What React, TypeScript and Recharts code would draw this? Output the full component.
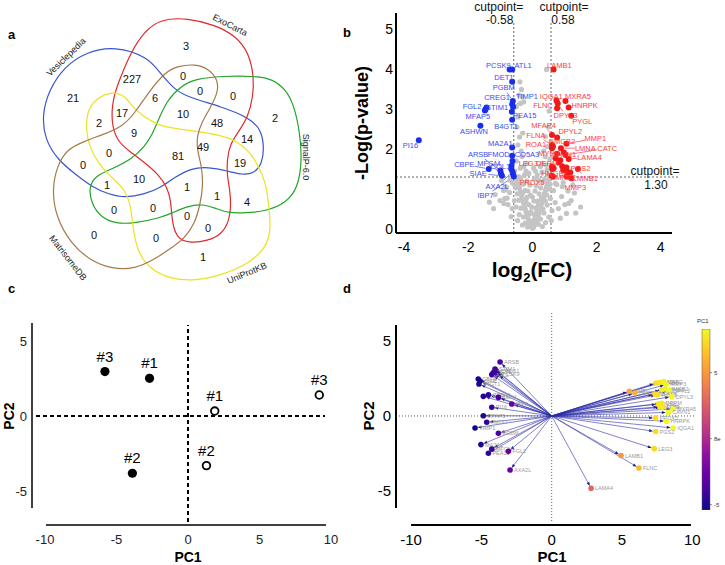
import React from 'react';
import { ScatterChart, Scatter, XAxis, YAxis, ReferenceLine, Label, BarChart, Bar } from 'recharts';

const FONT = '"Liberation Sans", Arial, Helvetica, sans-serif';

// ---------- a: Venn diagram (outline control points, diagram units) ----------
const vesiclepediaOutline = [[115,46],[148,57],[160,73],[175,90],[188,97],[222,107],[248,117],[262,130],[264,150],[262,163],[255,173],[242,175],[228,171],[208,167],[192,168],[175,177],[160,188],[145,194],[125,198],[108,194],[92,187],[75,174],[58,160],[45,140],[42,115],[49,90],[64,67],[86,52]];
const exoCartaOutline = [[160,19],[188,18],[215,25],[236,36],[249,53],[254,77],[253,97],[248,117],[239,131],[230,144],[227,160],[227,175],[230,190],[231,207],[229,221],[222,234],[208,241],[188,243],[177,238],[172,223],[171,200],[167,187],[159,175],[144,162],[129,151],[117,141],[111,122],[113,97],[121,76],[131,52],[144,32]];
const signalPOutline = [[157,123],[167,100],[181,86],[195,79],[222,76],[255,76],[273,79],[286,90],[294,105],[300,133],[302,160],[298,188],[286,203],[267,211],[245,213],[228,213],[215,208],[202,204],[188,206],[172,213],[160,218],[135,223],[118,224],[101,218],[91,203],[89,187],[95,176],[112,169],[132,159],[145,146],[152,135]];
const uniProtOutline = [[113,91],[125,96],[132,106],[140,114],[160,127],[188,130],[222,135],[238,142],[250,152],[259,167],[266,183],[269,207],[271,230],[266,248],[248,264],[222,275],[195,281],[170,279],[150,269],[138,253],[133,230],[131,205],[124,188],[111,177],[97,162],[89,145],[86,130],[87,112],[95,99]];
const matrisomeOutline = [[165,72],[178,66],[195,64],[209,69],[218,80],[218,93],[209,110],[202,122],[197,135],[197,150],[202,167],[203,187],[200,205],[195,223],[185,238],[170,249],[155,259],[135,269],[112,269],[91,261],[71,244],[56,217],[52,190],[57,166],[67,149],[85,141],[102,135],[122,127],[135,113],[148,93]];

const vennCounts = [
  [186,46,'3'],[132,79,'227'],[73,98,'21'],[183,76,'0'],[200,91,'0'],[233,96,'0'],[275,118,'2'],
  [155,98,'6'],[122,113,'17'],[183,114,'10'],[99,123,'2'],[217,123,'48'],[134,133,'9'],[247,139,'14'],
  [203,147,'49'],[109,153,'0'],[178,156,'81'],[240,163,'19'],[83,165,'0'],[139,179,'10'],[107,185,'1'],
  [187,187,'1'],[217,196,'1'],[247,202,'4'],[114,210,'0'],[153,208,'0'],[187,216,'0'],[208,228,'0'],
  [94,235,'0'],[156,238,'0'],[203,257,'1'],
];

const vennSetNames = [
  [66,57,'Vesiclepedia',-44],[230,25,'ExoCarta',27],[306,157,'SignalP-6.0',90],
  [68,258,'MatrisomeDB',52],[247,273,'UniProtKB',-23],
];

// ---------- b: volcano (log2 FC, -log10 p) ----------
const volcanoNs = [
  [0.00,0.02],[0.04,0.05],[-0.04,0.07],[0.07,0.11],[-0.07,0.13],[0.11,0.16],[-0.10,0.19],[0.14,0.23],[-0.13,0.26],[0.02,0.21],
  [0.17,0.31],[-0.16,0.33],[0.20,0.39],[-0.19,0.41],[0.06,0.36],[-0.05,0.43],[0.23,0.47],[-0.22,0.49],[0.26,0.55],[-0.25,0.57],
  [0.11,0.52],[-0.11,0.61],[0.29,0.63],[-0.28,0.66],[0.32,0.72],[-0.31,0.75],[0.16,0.70],[-0.17,0.79],[0.35,0.80],[-0.34,0.84],
  [0.38,0.89],[-0.37,0.92],[0.21,0.88],[-0.23,0.96],[0.41,0.97],[-0.40,1.01],[0.44,1.05],[-0.43,1.08],[0.26,1.03],[-0.29,1.12],
  [0.47,1.13],[-0.46,1.17],[0.50,1.21],[-0.49,1.24],[0.31,1.18],[0.06,1.25],[-0.08,1.10],[0.00,0.80],[-0.02,0.55],[0.08,0.95],
  [0.36,0.40],[-0.41,0.36],[0.46,0.60],[-0.51,0.55],[0.56,0.76],[-0.56,0.71],[0.61,0.46],[-0.63,0.51],[0.51,0.30],[-0.46,0.21],
  [0.41,0.16],[0.66,0.96],[-0.71,0.91],[0.71,0.66],[-0.76,0.61],[0.81,0.51],[-0.86,0.76],[0.76,1.11],[-0.81,1.05],[0.91,0.81],
  [-0.90,0.96],[1.01,0.61],[-1.01,0.71],[0.96,1.16],[-0.96,1.21],[1.11,0.95],[-1.16,0.86],[1.21,0.71],[-1.21,0.51],[1.35,0.40],
  [-1.34,0.67],[1.31,0.90],[0.87,0.27],[1.06,0.39],[1.50,0.55],[1.26,1.10],[-0.66,0.31],[0.59,0.21],[-0.31,0.10],[0.31,0.06],
  [0.72,1.14],[0.93,1.06],[1.13,0.64],[-0.84,0.98],[-0.79,0.77],[-0.89,0.64],[-0.62,1.15],[-0.70,1.22],
  [-0.15,0.05],[0.18,0.12],[-0.22,0.15],[0.25,0.25],[-0.28,0.30],[0.33,0.50],[-0.36,0.52],[0.40,0.70],[-0.42,0.72],[0.45,0.85],
  [-0.47,0.88],[0.52,1.00],[-0.52,1.03],[0.55,1.12],[-0.55,1.10],[0.12,1.08],[-0.14,0.95],[0.18,0.60],[-0.20,0.68],[0.05,0.70],
  [-0.06,0.85],[0.28,0.78],[-0.30,0.90],[0.38,1.25],[-0.36,1.27],[0.20,1.22],[-0.18,1.20],[0.09,0.30],[-0.09,0.38],[0.14,0.45],
  [-0.39,3.68],[-0.34,3.49],[-0.32,3.31],[-0.27,3.18],[-0.37,3.14],[-0.50,3.06],[-0.45,2.80],[-0.48,2.55],[-0.40,2.30],[-0.45,2.10],
  [-0.35,1.95],[-0.32,1.81],[-0.27,1.56],[-0.17,1.64],[-0.11,1.39],[-0.43,1.31],[0.04,1.52],[0.09,1.45],[0.25,1.56],[0.30,1.64],
  [0.46,1.48],[0.40,1.81],[0.46,2.06],[0.40,2.31],[0.50,2.55],[0.44,3.99],[0.50,1.35],[-0.20,1.45],[0.15,1.35],[-0.50,1.70],
  [-0.55,1.45],[0.55,1.75],[0.35,1.95],[-0.42,3.35],[0.52,2.95],[-0.25,1.35],[0.30,1.42],[-0.38,1.52],[0.42,1.60],[-0.30,2.40],
];

// name, log2FC, -log p, label x, label y
const volcanoDown = [
  ['PCSK9',-0.71,3.99,-1.06,4.10],['ATL1',-0.63,3.99,-0.29,4.10],['DET1',-0.63,3.68,-0.89,3.79],
  ['PGBM',-0.61,3.20,-0.89,3.53],['CREG1',-0.63,3.12,-1.10,3.28],['TIMP1',-0.60,3.05,-0.17,3.31],
  ['FGL2',-1.46,2.99,-1.88,3.06],['STIM1',-1.43,3.04,-1.10,3.04],['MFAP5',-1.48,2.96,-1.70,2.82],
  ['PEA15',-0.64,2.93,-0.24,2.83],['B4GT1',-0.63,2.73,-0.82,2.57],['ASHWN',-1.62,2.58,-1.82,2.45],
  ['PI16',-3.54,2.22,-3.80,2.08],['MA2A1',-0.63,2.04,-1.00,2.14],['FMOD',-0.63,1.83,-1.05,1.87],
  ['CO5A3',-0.62,1.70,-0.17,1.87],['ARSB',-1.00,1.46,-1.69,1.87],['CBPE',-1.36,1.50,-2.12,1.62],
  ['MFGM',-0.98,1.39,-1.36,1.64],['COL1',-0.65,1.58,-1.00,1.56],['SIAE',-0.95,1.33,-1.69,1.39],
  ['AXA2L',-0.62,1.43,-1.10,1.06],['IBP7',-0.58,1.31,-1.46,0.83],
];
const volcanoDownExtra = [[-0.60,1.36],[-0.66,1.50]];

const volcanoUp = [
  ['LAMB1',0.66,3.99,0.84,4.10],['IQGA1',0.75,3.21,0.59,3.31],['FLNC',0.77,3.02,0.33,3.08],
  ['MXRA5',1.03,3.20,1.42,3.31],['HNRPK',1.13,3.04,1.63,3.08],['DPYL3',0.79,3.14,1.03,2.83],
  ['PYGL',1.21,2.83,1.55,2.68],['MFAP4',0.61,2.35,0.35,2.60],['DPYL2',0.77,2.29,1.18,2.45],
  ['FLNA',0.61,2.10,0.11,2.35],['HMGB2',0.61,2.02,0.92,2.20],['MMP1',1.06,2.13,1.96,2.27],
  ['ROA1',0.64,2.06,0.11,2.12],['LMNA',0.89,2.02,1.65,2.02],['CATC',1.03,1.85,2.33,2.02],
  ['MYH9',0.72,1.77,0.51,1.89],['CAVN1',0.77,1.88,0.98,1.87],['LAMA4',1.13,1.75,1.78,1.79],
  ['LEG3',0.61,1.56,-0.13,1.64],['DERM',0.66,1.52,0.46,1.64],['PGS2',1.06,1.54,1.50,1.52],
  ['HMGB1',0.60,1.33,0.69,1.38],['LMNB2',0.96,1.47,0.97,1.30],['LMNB1',1.42,1.50,1.65,1.27],
  ['MMP3',1.21,1.27,1.34,1.04],['PRDX5',0.64,1.31,-0.01,1.16],
];
const volcanoUpExtra = [[0.87,1.72],[0.82,1.66],[0.93,1.57],[1.08,1.43],[1.18,1.41],[1.06,1.31],[0.98,1.91],[0.62,1.50]];

const volcanoXTicks = [-4, -2, 0, 2, 4];
const volcanoYTicks = [0, 1, 2, 3, 4, 5];
const fcCut = 0.58;
const pCut = 1.30;

// ---------- c: sample PCA ----------
const pcaTreated = [['#3',-5.81,2.96],['#1',-2.69,2.51],['#2',-3.89,-3.82]];
const pcaControl = [['#1',1.87,0.33],['#2',1.29,-3.31],['#3',9.18,1.40]];
const pcaXTicks = [-10, -5, 0, 5, 10];
const pcaYTicks = [-5, 0, 5];

// ---------- d: biplot (PC1, PC2 loadings) ----------
const biplotDown = [
  ['ARSB',-3.67,3.60],['STIM1',-4.03,3.13],['CREG1',-3.93,3.00],['DET1',-4.15,2.90],['PCSK9',-3.85,2.80],
  ['ATL1',-4.26,2.76],['CBPE',-5.22,2.47],['SIAE',-5.10,2.33],['B4GT1',-5.17,2.13],['ASHWN',-4.86,1.31],
  ['CO5A3',-4.50,1.42],['COL1',-3.79,1.24],['IBP7',-2.84,0.80],['PI16',-4.26,0.58],['MFAP5',-4.86,0.02],
  ['FMOD',-4.62,-0.42],['TIMP1',-5.45,-0.80],['PGBM',-3.79,-1.16],['MA2A1',-5.03,-1.91],['MFGM',-4.26,-2.20],
  ['PEA15',-4.50,-2.49],['FGL2',-3.08,-2.36],['AXA2L',-2.96,-3.60],
];
const biplotUp = [
  ['MMP1',5.52,1.65],['HMGB1',5.92,1.53],['LMNB1',7.41,2.20],['LMNA',7.70,2.24],['CATC',7.98,2.29],
  ['MMP3',8.15,2.10],['LMNB2',7.82,1.75],['HMGB2',8.05,1.80],['DPYL2',8.34,1.69],['MFAP4',7.34,1.47],
  ['ROA1',7.53,1.42],['DPYL3',8.53,1.29],['PYGL',7.58,0.80],['DERM',7.82,0.84],['MYH9',7.70,0.62],
  ['FLNA',7.86,0.58],['MXRA5',8.64,0.47],['CAVN1',8.29,0.24],['PRDX5',7.39,-0.13],['HNRPK',8.17,-0.35],
  ['IQGA1',8.64,-0.80],['PGS2',7.39,-1.04],['LEG3',7.29,-2.18],['LAMB1',4.93,-2.64],['FLNC',6.20,-3.47],
  ['LAMA4',2.80,-4.82],
];
const colorbarRange = [-5.4, 8.3];
const colorbarTicks = [-5, 0, 5];
const colorbarTickLabels = ['-5', '8e', '5'];

// ---------- helpers ----------
const PLASMA = ['#0d0887','#41049d','#6a00a8','#8f0da4','#b12a90','#cc4778','#e16462','#f2844b','#fca636','#fcce25','#f0f921'];
function hex(c: string) { return [1, 3, 5].map((i) => parseInt(c.slice(i, i + 2), 16)); }
function plasma(v: number) {
  const t = Math.max(0, Math.min(1, (v - colorbarRange[0]) / (colorbarRange[1] - colorbarRange[0])));
  const f = t * (PLASMA.length - 1);
  const i = Math.min(PLASMA.length - 2, Math.floor(f));
  const a = hex(PLASMA[i]), b = hex(PLASMA[i + 1]);
  const k = f - i;
  return `rgb(${a.map((x, j) => Math.round(x + (b[j] - x) * k)).join(',')})`;
}

const pts = (arr: any[]) => arr.map(([x, y]) => ({ x, y }));
const NoDot = () => <g />;
const dot = (fill: string, r: number) => (p: any) => <circle cx={p.cx} cy={p.cy} r={r} fill={fill} />;

const BLUE = '#1a2ee8';
const RED = '#f01818';
const BLUE_TXT = '#3b4cf0';
const RED_TXT = '#ff3a3a';

function connector(name: string, color: string, fs: number) {
  return (p: any) => {
    const { x1, y1, x2, y2 } = p;
    const dx = x2 - x1, dy = y2 - y1;
    const len = Math.hypot(dx, dy);
    if (!len) return <g />;
    const hw = name.length * fs * 0.31 + 1, hh = fs * 0.5 + 1;
    const tx = dx === 0 ? Infinity : hw / Math.abs(dx);
    const ty = dy === 0 ? Infinity : hh / Math.abs(dy);
    const t0 = Math.min(tx, ty);
    const t1 = 1 - 3.5 / len;
    if (t0 >= t1 - 0.05) return <g />;
    return <line x1={x1 + dx * t0} y1={y1 + dy * t0} x2={x1 + dx * t1} y2={y1 + dy * t1} stroke={color} strokeWidth={0.7} />;
  };
}

const arrowShape = (p: any) => {
  const { x1, y1, x2, y2 } = p;
  const dx = x2 - x1, dy = y2 - y1, L = Math.hypot(dx, dy);
  const ux = dx / L, uy = dy / L;
  const tipX = x2 - ux * 2.5, tipY = y2 - uy * 2.5;
  const bx = tipX - ux * 4, by = tipY - uy * 4;
  const nx = -uy * 1.5, ny = ux * 1.5;
  return (
    <g>
      <line x1={x1} y1={y1} x2={bx} y2={by} stroke="#2d2da8" strokeWidth={0.6} />
      <polygon points={`${tipX},${tipY} ${bx + nx},${by + ny} ${bx - nx},${by - ny}`} fill="#1b1b86" />
    </g>
  );
};

function VennPanel() {
  const outlines: [number[][], string][] = [
    [vesiclepediaOutline, '#3a55d0'],
    [exoCartaOutline, '#e02a2a'],
    [signalPOutline, '#22a52a'],
    [uniProtOutline, '#ece31c'],
    [matrisomeOutline, '#a57a4a'],
  ];
  return (
    <ScatterChart width={345} height={292} margin={{ top: 0, right: 0, bottom: 0, left: 0 }}>
      <XAxis type="number" dataKey="x" domain={[0, 345]} allowDataOverflow hide />
      <YAxis type="number" dataKey="y" domain={[0, 292]} allowDataOverflow reversed hide width={0} />
      {outlines.map(([o, c], i) => (
        <Scatter key={i} data={pts(o)} line={{ stroke: c, strokeWidth: 1.2 }} lineJointType="basisClosed"
          shape={NoDot} isAnimationActive={false} />
      ))}
      <Scatter data={vennCounts.map(([x, y, v]) => ({ x, y, v }))} isAnimationActive={false}
        shape={(p: any) => (
          <text x={p.cx} y={p.cy} textAnchor="middle" dominantBaseline="central" fontSize={11}
            fontFamily={FONT} fill="#111">{p.payload.v}</text>
        )} />
      <Scatter data={vennSetNames.map(([x, y, name, a]) => ({ x, y, name, a }))} isAnimationActive={false}
        shape={(p: any) => (
          <text x={p.cx} y={p.cy} textAnchor="middle" dominantBaseline="central" fontSize={9}
            fontFamily={FONT} fill="#222" transform={`rotate(${p.payload.a} ${p.cx} ${p.cy})`}>{p.payload.name}</text>
        )} />
    </ScatterChart>
  );
}

function VolcanoPanel() {
  const genes = [
    ...volcanoDown.map(([name, x, y, lx, ly]) => ({ name, x, y, lx, ly, c: BLUE, t: BLUE_TXT })),
    ...volcanoUp.map(([name, x, y, lx, ly]) => ({ name, x, y, lx, ly, c: RED, t: RED_TXT })),
  ] as any[];
  const tick = { fill: '#000', fontSize: 14, fontFamily: FONT };
  return (
    <ScatterChart width={385} height={292} margin={{ top: 13, right: 53, bottom: 10, left: 26 }}>
      <XAxis type="number" dataKey="x" domain={[-4.25, 4.35]} ticks={volcanoXTicks} allowDataOverflow
        axisLine={{ stroke: '#000', strokeWidth: 2 }} tickLine={false} tickSize={0} tickMargin={9} tick={tick} height={49}>
        <Label content={() => (
          <text x={192} y={277} textAnchor="middle" fontSize={21} fontWeight="bold" fontFamily={FONT} fill="#000">
            log<tspan fontSize={13} dy={5}>2</tspan><tspan dy={-5}>(FC)</tspan>
          </text>
        )} />
      </XAxis>
      <YAxis type="number" dataKey="y" domain={[-0.1, 5.4]} ticks={volcanoYTicks} allowDataOverflow width={30}
        axisLine={{ stroke: '#000', strokeWidth: 2 }} tickLine={false} tickSize={0} tickMargin={3} tick={tick}>
        <Label content={() => (
          <text x={28} y={123} transform="rotate(-90 28 123)" textAnchor="middle" fontSize={18} fontWeight="bold"
            fontFamily={FONT} fill="#000">-Log(p-value)</text>
        )} />
      </YAxis>
      <ReferenceLine segment={[{ x: -fcCut, y: -0.1 }, { x: -fcCut, y: 5.2 }]} stroke="#666" strokeDasharray="2 2"
        ifOverflow="visible"
        label={(p: any) => (
          <g fontFamily={FONT} fontSize={12} fill="#111" textAnchor="middle">
            <text x={p.viewBox.x - 15} y={p.viewBox.y - 10}>cutpoint=</text>
            <text x={p.viewBox.x - 14} y={p.viewBox.y + 3}>{(-fcCut).toFixed(2)}</text>
          </g>
        )} />
      <ReferenceLine segment={[{ x: fcCut, y: -0.1 }, { x: fcCut, y: 5.2 }]} stroke="#666" strokeDasharray="2 2"
        ifOverflow="visible"
        label={(p: any) => (
          <g fontFamily={FONT} fontSize={12} fill="#111" textAnchor="middle">
            <text x={p.viewBox.x + 13} y={p.viewBox.y - 10}>cutpoint=</text>
            <text x={p.viewBox.x + 12} y={p.viewBox.y + 3}>{fcCut.toFixed(2)}</text>
          </g>
        )} />
      <ReferenceLine segment={[{ x: -4.25, y: pCut }, { x: 4.6, y: pCut }]} stroke="#666" strokeDasharray="2 2"
        ifOverflow="visible"
        label={(p: any) => (
          <g fontFamily={FONT} fontSize={12} fill="#111" textAnchor="middle">
            <text x={p.viewBox.x + p.viewBox.width - 25} y={p.viewBox.y - 2}>cutpoint=</text>
            <text x={p.viewBox.x + p.viewBox.width - 24} y={p.viewBox.y + 12}>{pCut.toFixed(2)}</text>
          </g>
        )} />
      <Scatter data={pts(volcanoNs)} shape={dot('#c4c4c4', 2.6)} isAnimationActive={false} />
      {genes.map((g, i) => (
        <ReferenceLine key={'c' + i} segment={[{ x: g.lx, y: g.ly }, { x: g.x, y: g.y }]} ifOverflow="visible"
          stroke={g.t} shape={connector(g.name, g.t, 7.5)} />
      ))}
      <Scatter data={pts(volcanoDownExtra)} shape={dot(BLUE, 3)} isAnimationActive={false} />
      <Scatter data={pts(volcanoUpExtra)} shape={dot(RED, 3)} isAnimationActive={false} />
      <Scatter data={genes.map((g) => ({ x: g.x, y: g.y, c: g.c }))} isAnimationActive={false}
        shape={(p: any) => <circle cx={p.cx} cy={p.cy} r={3} fill={p.payload.c} />} />
      <Scatter data={genes.map((g) => ({ x: g.lx, y: g.ly, name: g.name, t: g.t }))} isAnimationActive={false}
        shape={(p: any) => (
          <text x={p.cx} y={p.cy} textAnchor="middle" dominantBaseline="central" fontSize={7.5} fontFamily={FONT}
            fill={p.payload.t}>{p.payload.name}</text>
        )} />
    </ScatterChart>
  );
}

function PcaPanel() {
  const tick = { fill: '#222', fontSize: 13, fontFamily: FONT };
  const lbl = (p: any) => (
    <text x={p.cx} y={p.cy - 10} textAnchor="middle" fontSize={15} fontFamily={FONT} fill="#000">{p.payload.name}</text>
  );
  return (
    <ScatterChart width={345} height={285} margin={{ top: 43, right: 11, bottom: 0, left: 2 }}>
      <XAxis type="number" dataKey="x" domain={[-10.91, 10.21]} ticks={pcaXTicks} allowDataOverflow height={40}
        axisLine={false} tickLine={false} tickSize={0} tickMargin={10} tick={tick}>
        <Label content={() => (
          <text x={188} y={282} textAnchor="middle" fontSize={14} fontWeight="bold" fontFamily={FONT} fill="#000">PC1</text>
        )} />
      </XAxis>
      <YAxis type="number" dataKey="y" domain={[-7.27, 6.2]} ticks={pcaYTicks} allowDataOverflow width={30}
        axisLine={false} tickLine={false} tickSize={0} tickMargin={5} tick={tick}>
        <Label content={() => (
          <text x={14} y={136} transform="rotate(-90 14 136)" textAnchor="middle" fontSize={14} fontWeight="bold"
            fontFamily={FONT} fill="#000">PC2</text>
        )} />
      </YAxis>
      <ReferenceLine segment={[{ x: -10.91, y: -6.13 }, { x: -10.91, y: 6.2 }]} stroke="#000" strokeWidth={1.5} ifOverflow="visible" />
      <ReferenceLine segment={[{ x: -9.93, y: -7.27 }, { x: 9.65, y: -7.27 }]} stroke="#000" strokeWidth={1.5} ifOverflow="visible" />
      <ReferenceLine segment={[{ x: 0, y: -7.07 }, { x: 0, y: 6.07 }]} stroke="#000" strokeWidth={2} strokeDasharray="4 3" ifOverflow="visible" />
      <ReferenceLine segment={[{ x: -10.63, y: 0 }, { x: 9.58, y: 0 }]} stroke="#000" strokeWidth={2} strokeDasharray="4 3" ifOverflow="visible" />
      <Scatter data={pcaTreated.map(([name, x, y]) => ({ name, x, y }))} isAnimationActive={false}
        shape={(p: any) => <g><circle cx={p.cx} cy={p.cy} r={4.6} fill="#000" />{lbl(p)}</g>} />
      <Scatter data={pcaControl.map(([name, x, y]) => ({ name, x, y }))} isAnimationActive={false}
        shape={(p: any) => <g><circle cx={p.cx} cy={p.cy} r={3.8} fill="#fff" stroke="#000" strokeWidth={1.8} />{lbl(p)}</g>} />
    </ScatterChart>
  );
}

function BiplotPanel() {
  const tick = { fill: '#000', fontSize: 15, fontFamily: FONT };
  const all = [...biplotDown, ...biplotUp].map(([name, x, y]) => ({ name, x, y })) as any[];
  return (
    <ScatterChart width={365} height={285} margin={{ top: 32.5, right: 29, bottom: 0, left: 6 }}>
      <XAxis type="number" dataKey="x" domain={[-11.07, 10.26]} ticks={pcaXTicks} allowDataOverflow height={40}
        axisLine={false} tickLine={false} tickSize={0} tickMargin={9} tick={tick}>
        <Label content={() => (
          <text x={192} y={282} textAnchor="middle" fontSize={15} fontWeight="bold" fontFamily={FONT} fill="#000">PC1</text>
        )} />
      </XAxis>
      <YAxis type="number" dataKey="y" domain={[-7.27, 6.9]} ticks={pcaYTicks} allowDataOverflow width={30}
        axisLine={false} tickLine={false} tickSize={0} tickMargin={5} tick={tick}>
        <Label content={() => (
          <text x={14} y={136} transform="rotate(-90 14 136)" textAnchor="middle" fontSize={15} fontWeight="bold"
            fontFamily={FONT} fill="#000">PC2</text>
        )} />
      </YAxis>
      <ReferenceLine segment={[{ x: -11.07, y: -6.13 }, { x: -11.07, y: 6.07 }]} stroke="#000" strokeWidth={2} ifOverflow="visible" />
      <ReferenceLine segment={[{ x: -10.0, y: -7.27 }, { x: 9.9, y: -7.27 }]} stroke="#000" strokeWidth={2} ifOverflow="visible" />
      <ReferenceLine segment={[{ x: 0, y: -7.0 }, { x: 0, y: 6.9 }]} stroke="#333" strokeWidth={0.8} strokeDasharray="1 2" ifOverflow="visible" />
      <ReferenceLine segment={[{ x: -11.07, y: 0 }, { x: 10.26, y: 0 }]} stroke="#333" strokeWidth={0.8} strokeDasharray="1 2" ifOverflow="visible" />
      {all.map((g, i) => (
        <ReferenceLine key={i} segment={[{ x: 0, y: 0 }, { x: g.x, y: g.y }]} ifOverflow="visible" shape={arrowShape} />
      ))}
      <Scatter data={all} isAnimationActive={false}
        shape={(p: any) => (
          <g>
            <circle cx={p.cx} cy={p.cy} r={2.8} fill={plasma(p.payload.x)} />
            <text x={p.cx + 4} y={p.cy} dominantBaseline="central" fontSize={5.5} fontFamily={FONT} fill="#9a9a9a">{p.payload.name}</text>
          </g>
        )} />
    </ScatterChart>
  );
}

function Colorbar() {
  return (
    <BarChart width={35} height={210} data={[{ k: 'PC1', range: colorbarRange }]} barCategoryGap={0}
      margin={{ top: 14, right: 0, bottom: 15, left: 12 }}>
      <defs>
        <linearGradient id="plasmaGrad" x1="0" y1="1" x2="0" y2="0">
          {PLASMA.map((c, i) => <stop key={i} offset={i / (PLASMA.length - 1)} stopColor={c} />)}
        </linearGradient>
      </defs>
      <XAxis dataKey="k" hide />
      <YAxis orientation="right" type="number" domain={colorbarRange} ticks={colorbarTicks} allowDataOverflow width={15}
        axisLine={false} tickSize={2} tickLine={{ stroke: '#444', strokeWidth: 0.6 }} tickMargin={2}
        tickFormatter={(v: number) => colorbarTickLabels[colorbarTicks.indexOf(v)]}
        tick={{ fill: '#333', fontSize: 6, fontFamily: FONT }} />
      <Bar dataKey="range" fill="url(#plasmaGrad)" stroke="#555" strokeWidth={0.5} isAnimationActive={false} />
    </BarChart>
  );
}

const letter = (s: string, left: number, top: number) => (
  <div style={{ position: 'absolute', left, top, fontFamily: FONT, fontWeight: 'bold', fontSize: 13, lineHeight: '13px', color: '#000' }}>{s}</div>
);

export default function App() {
  return (
    <div style={{ position: 'absolute', left: 0, top: 0, width: 725, height: 565, background: '#fff', overflow: 'hidden' }}>
      <div style={{ position: 'absolute', left: 0, top: 0 }}><VennPanel /></div>
      <div style={{ position: 'absolute', left: 340, top: 0 }}><VolcanoPanel /></div>
      <div style={{ position: 'absolute', left: 0, top: 280 }}><PcaPanel /></div>
      <div style={{ position: 'absolute', left: 360, top: 280 }}><BiplotPanel /></div>
      <div style={{ position: 'absolute', left: 690, top: 315 }}><Colorbar /></div>
      <div style={{ position: 'absolute', left: 697, top: 318, fontFamily: FONT, fontSize: 6, color: '#333' }}>PC1</div>
      {letter('a', 8, 28)}
      {letter('b', 343, 26)}
      {letter('c', 8, 282)}
      {letter('d', 343, 282)}
    </div>
  );
}
